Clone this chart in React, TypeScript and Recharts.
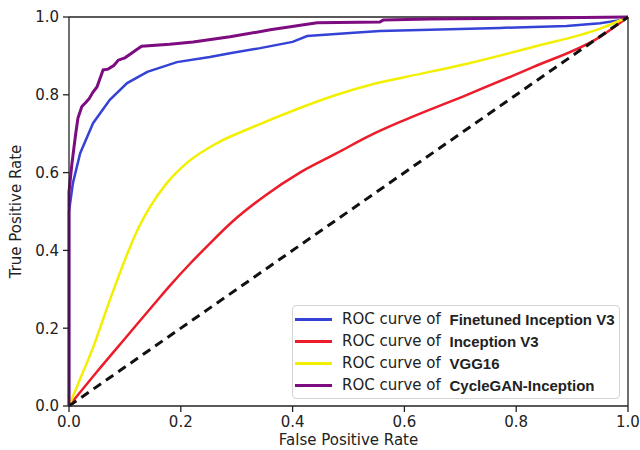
import { LineChart, Line, XAxis, YAxis, Legend, ReferenceLine } from "recharts";

// ROC curves (false positive rate -> true positive rate)
const finetunedFpr = [0, 0, 0.007, 0.02, 0.043, 0.073, 0.104, 0.14, 0.193, 0.252, 0.288, 0.342, 0.4, 0.426, 0.503, 0.556, 0.646, 0.77, 0.89, 0.95, 0.986, 1];
const finetunedTpr = [0, 0.5, 0.573, 0.65, 0.727, 0.787, 0.83, 0.859, 0.884, 0.897, 0.907, 0.92, 0.936, 0.951, 0.959, 0.964, 0.967, 0.972, 0.977, 0.984, 0.992, 1];

const inceptionFpr = [0, 0.05, 0.104, 0.157, 0.181, 0.216, 0.25, 0.293, 0.35, 0.413, 0.479, 0.538, 0.6, 0.712, 0.83, 0.95, 1];
const inceptionTpr = [0, 0.088, 0.18, 0.27, 0.31, 0.365, 0.415, 0.475, 0.54, 0.6, 0.65, 0.695, 0.735, 0.8, 0.871, 0.949, 1];

const vggFpr = [0, 0.02, 0.043, 0.073, 0.104, 0.125, 0.145, 0.175, 0.211, 0.265, 0.324, 0.413, 0.479, 0.538, 0.6, 0.712, 0.83, 0.95, 1];
const vggTpr = [0, 0.07, 0.15, 0.272, 0.39, 0.46, 0.512, 0.573, 0.625, 0.676, 0.714, 0.766, 0.8, 0.825, 0.845, 0.88, 0.923, 0.97, 1];

const cycleganFpr = [0, 0, 0.005, 0.009, 0.012, 0.016, 0.023, 0.03, 0.036, 0.043, 0.05, 0.055, 0.061, 0.07, 0.08, 0.088, 0.1, 0.11, 0.12, 0.13, 0.18, 0.222, 0.288, 0.36, 0.444, 0.556, 0.562, 0.646, 0.8, 1];
const cycleganTpr = [0, 0.55, 0.62, 0.666, 0.7, 0.74, 0.77, 0.78, 0.79, 0.807, 0.82, 0.84, 0.864, 0.866, 0.875, 0.889, 0.895, 0.905, 0.915, 0.925, 0.93, 0.936, 0.949, 0.967, 0.985, 0.987, 0.992, 0.995, 0.997, 1];

const chanceFpr = [0, 1];
const chanceTpr = [0, 1];

const axisTicks = [0, 0.2, 0.4, 0.6, 0.8, 1.0];

const toPoints = (fpr: number[], tpr: number[]) =>
  fpr.map((x, i) => ({ x, y: tpr[i] }));

const series = [
  { name: "Finetuned Inception V3", color: "#3442d6", fpr: finetunedFpr, tpr: finetunedTpr, type: "linear" },
  { name: "Inception V3", color: "#ec1c2a", fpr: inceptionFpr, tpr: inceptionTpr, type: "monotone" },
  { name: "VGG16", color: "#f3ef00", fpr: vggFpr, tpr: vggTpr, type: "monotone" },
  { name: "CycleGAN-Inception", color: "#7d0c80", fpr: cycleganFpr, tpr: cycleganTpr, type: "linear" },
];

const FONT = "'DejaVu Sans', sans-serif";

const RocLegend = () => (
  <div
    style={{
      border: "1px solid #d4d4d4",
      borderRadius: 4,
      background: "rgba(255,255,255,0.85)",
      padding: "2px 4px 2px 2px",
      boxSizing: "border-box",
      width: 328,
    }}
  >
    {series.map((s) => (
      <div key={s.name} style={{ display: "flex", alignItems: "center", height: 22 }}>
        <span style={{ display: "inline-block", width: 37, height: 3, background: s.color, marginRight: 10 }} />
        <span style={{ fontFamily: FONT, fontSize: 15, color: "#222", whiteSpace: "pre" }}>ROC curve of </span>
        <span style={{ fontFamily: "'Liberation Sans', sans-serif", fontSize: 15, fontWeight: 600, color: "#222", marginLeft: 4 }}>
          {s.name}
        </span>
      </div>
    ))}
  </div>
);

const App = () => {
  return (
    <div style={{ position: "absolute", left: 0, top: 0, background: "#fff" }}>
      <LineChart width={640} height={450} margin={{ top: 17, right: 12, left: 0, bottom: 0 }}>
        <XAxis
          type="number"
          dataKey="x"
          domain={[0, 1]}
          ticks={axisTicks}
          tickFormatter={(v: number) => v.toFixed(1)}
          height={44}
          stroke="#222"
          strokeWidth={1.3}
          tickSize={6}
          tickMargin={4}
          tick={{ fill: "#222", fontSize: 15, fontFamily: FONT }}
          label={{ value: "False Positive Rate", position: "insideBottom", offset: 5, fill: "#222", fontSize: 15, fontFamily: FONT }}
        />
        <YAxis
          type="number"
          dataKey="y"
          domain={[0, 1]}
          ticks={axisTicks}
          tickFormatter={(v: number) => v.toFixed(1)}
          width={69}
          stroke="#222"
          strokeWidth={1.3}
          tickSize={6}
          tickMargin={4}
          tick={{ fill: "#222", fontSize: 15, fontFamily: FONT }}
          label={(props: any) => {
            const vb = props.viewBox || { y: 17, height: 389 };
            const cy = vb.y + vb.height / 2;
            return (
              <text
                x={16}
                y={cy}
                transform={`rotate(-90 16 ${cy})`}
                textAnchor="middle"
                dominantBaseline="middle"
                fill="#222"
                fontSize={15}
                fontFamily={FONT}
              >
                True Positive Rate
              </text>
            );
          }}
        />
        <ReferenceLine y={1} stroke="#222" strokeWidth={1.3} />
        <ReferenceLine x={1} stroke="#222" strokeWidth={1.3} />
        {series.map((s) => (
          <Line
            key={s.name}
            data={toPoints(s.fpr, s.tpr)}
            dataKey="y"
            name={s.name}
            type={s.type as any}
            stroke={s.color}
            strokeWidth={s.name === "CycleGAN-Inception" ? 3 : 2.5}
            dot={false}
            isAnimationActive={false}
          />
        ))}
        <Line
          data={toPoints(chanceFpr, chanceTpr)}
          dataKey="y"
          type="linear"
          stroke="#111"
          strokeWidth={3}
          strokeDasharray="9 6"
          dot={false}
          legendType="none"
          isAnimationActive={false}
        />
        <Legend
          layout="horizontal"
          align="center"
          verticalAlign="middle"
          content={() => <RocLegend />}
          wrapperStyle={{ position: "absolute", left: 292, top: 305, width: 328 }}
        />
      </LineChart>
    </div>
  );
};

export default App;
